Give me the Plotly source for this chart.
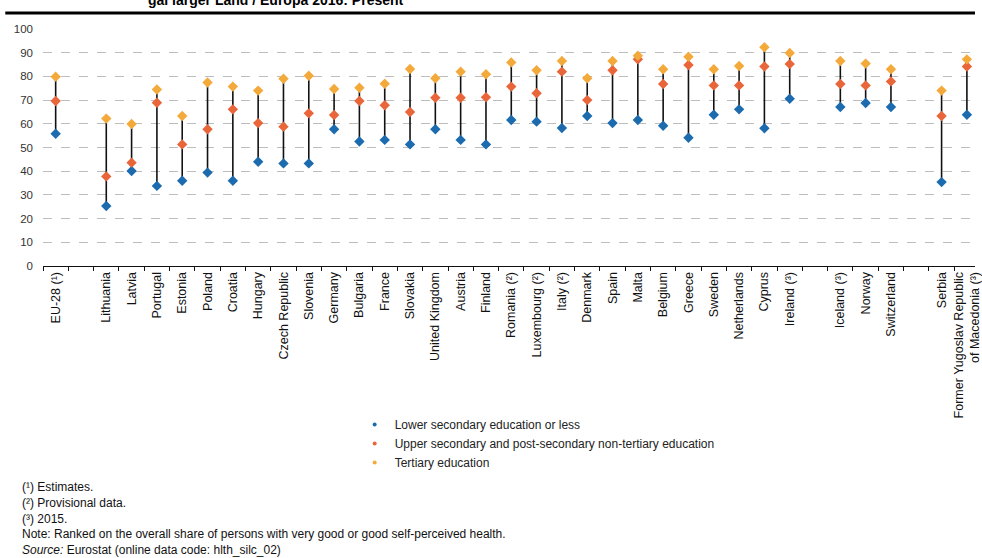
import plotly.graph_objects as go

# Slot order on the x axis (blank strings are spacer slots)
categories = [
    "EU-28 (¹)", " ", "Lithuania", "Latvia", "Portugal", "Estonia", "Poland",
    "Croatia", "Hungary", "Czech Republic", "Slovenia", "Germany", "Bulgaria",
    "France", "Slovakia", "United Kingdom", "Austria", "Finland", "Romania (²)",
    "Luxembourg (²)", "Italy (²)", "Denmark", "Spain", "Malta", "Belgium",
    "Greece", "Sweden", "Netherlands", "Cyprus", "Ireland (³)", "  ",
    "Iceland (³)", "Norway", "Switzerland", "   ", "Serbia",
    "Former Yugoslav Republic<br>of Macedonia (³)",
]

countries = [c for c in categories if c.strip()]

lower = [55.8, 25.3, 40.1, 33.8, 36.0, 39.4, 36.0, 44.0, 43.3, 43.3, 57.7,
         52.5, 53.2, 51.3, 57.7, 53.2, 51.3, 61.6, 60.9, 58.2, 63.3, 60.3,
         61.6, 59.2, 54.1, 63.8, 66.1, 58.1, 70.6, 67.1, 68.8, 67.1, 35.4,
         63.8]
upper = [69.6, 37.8, 43.6, 68.9, 51.3, 57.7, 66.1, 60.3, 58.8, 64.4, 63.7,
         69.6, 67.8, 65.0, 71.0, 71.0, 71.2, 75.7, 72.9, 82.0, 70.0, 82.6,
         87.2, 76.8, 84.8, 76.2, 76.2, 84.2, 85.2, 76.8, 76.2, 77.9, 63.3,
         84.2]
tertiary = [79.9, 62.2, 59.9, 74.5, 63.3, 77.4, 75.7, 74.0, 79.0, 80.3, 74.7,
            75.2, 76.9, 83.1, 79.2, 82.0, 80.9, 85.9, 82.6, 86.5, 79.2, 86.5,
            88.7, 83.0, 88.3, 83.0, 84.4, 92.3, 89.9, 86.5, 85.4, 83.0, 74.0,
            87.2]

series_names = [
    "Lower secondary education or less",
    "Upper secondary and post-secondary non-tertiary education",
    "Tertiary education",
]
series_colors = ["#1C6BAF", "#E9663B", "#F4A93B"]

y_ticks = list(range(0, 101, 10))

footnotes = [
    "(¹) Estimates.",
    "(²) Provisional data.",
    "(³) 2015.",
    "Note: Ranked on the overall share of persons with very good or good self-perceived health.",
    "<i>Source:</i> Eurostat (online data code: hlth_silc_02)",
]

FONT = "Arial, Liberation Sans, sans-serif"

fig = go.Figure()

# Connecting vertical lines (min to max per country)
lx, ly = [], []
for c, a, b, t in zip(countries, lower, upper, tertiary):
    vals = [a, b, t]
    lx += [c, c, None]
    ly += [min(vals), max(vals), None]
fig.add_trace(go.Scatter(x=lx, y=ly, mode="lines",
                         line=dict(color="#111111", width=1.6),
                         showlegend=False, hoverinfo="skip"))

for name, vals, col in zip(series_names, [lower, upper, tertiary], series_colors):
    fig.add_trace(go.Scatter(x=countries, y=vals, mode="markers", name=name,
                             marker=dict(symbol="diamond", size=8, color=col),
                             showlegend=False))
    # legend-only entry with small dot
    fig.add_trace(go.Scatter(x=[None], y=[None], mode="markers", name=name,
                             marker=dict(symbol="circle", size=4, color=col)))

W, H = 982, 558
L, T, B = 43, 29, 292
plot_h = H - T - B
plot_w = W - L

def py(px):  # pixel y -> paper y
    return (H - B - px) / plot_h

def pxx(px):  # pixel x -> paper x
    return (px - L) / plot_w

# Thick rule under the (cropped) title
fig.add_shape(type="line", xref="paper", yref="paper",
              x0=pxx(5), x1=1.0, y0=py(13), y1=py(13),
              line=dict(color="black", width=3))

# Cropped title text at the very top
fig.add_annotation(xref="paper", yref="paper", x=pxx(147), y=py(0),
                   xanchor="left", yanchor="middle", showarrow=False,
                   text="<b>gal larger Land / Europa 2016: Present</b>",
                   font=dict(family=FONT, size=14, color="black"))

for i, txt in enumerate(footnotes):
    fig.add_annotation(xref="paper", yref="paper", x=pxx(20),
                       y=py(487 + i * 15.8), xanchor="left", yanchor="middle",
                       showarrow=False, text=txt,
                       font=dict(family=FONT, size=12, color="#111111"))

fig.update_layout(
    width=W, height=H,
    margin=dict(l=L, r=0, t=T, b=B),
    plot_bgcolor="white", paper_bgcolor="white",
    font=dict(family=FONT, size=11, color="#222222"),
    legend=dict(x=pxx(357), y=py(410), xanchor="left", yanchor="top",
                orientation="v", font=dict(family=FONT, size=12, color="#222222"),
                bgcolor="rgba(0,0,0,0)", tracegroupgap=0, itemwidth=30),
    xaxis=dict(type="category", categoryorder="array", categoryarray=categories,
               range=[-0.5, 36.32], tickson="boundaries", ticks="outside",
               ticklen=4, tickcolor="#111111", tickangle=-90,
               showline=True, linecolor="#111111", linewidth=1,
               showgrid=False, tickfont=dict(family=FONT, size=12.5, color="#111111")),
    yaxis=dict(range=[0, 100], tickvals=y_ticks, showgrid=True,
               gridcolor="#bdbdbd", griddash="dash", gridwidth=1,
               zeroline=False, showline=False, ticks="", ticklabelstandoff=9,
               tickfont=dict(family=FONT, size=11.5, color="#333333")),
)

fig.write_html("out.html", config={"displayModeBar": False},
               post_script="document.body.style.margin='0';document.body.style.padding='0';")
